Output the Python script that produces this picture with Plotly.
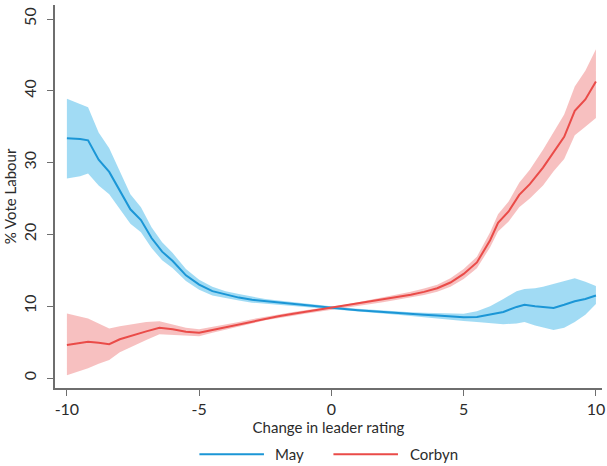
import plotly.graph_objects as go

# Change in leader rating (x) and estimated % vote Labour with 95% bands
may_x = [-10, -9.5, -9.2, -8.8, -8.4, -8.0, -7.6, -7.2, -6.8, -6.4, -6.0, -5.5, -5.0,
         -4.5, -4.0, -3.5, -3.0, -2.5, -2.0, -1.5, -1.0, -0.5, 0, 0.5, 1.0, 1.5, 2.0,
         2.5, 3.0, 3.5, 4.0, 4.5, 5.0, 5.5, 6.0, 6.5, 7.0, 7.3, 7.7, 8.0, 8.4, 8.8,
         9.2, 9.6, 10.0]
may_mean = [33.4, 33.3, 33.1, 30.4, 28.7, 26.0, 23.5, 22.0, 19.5, 17.6, 16.3, 14.3, 13.0,
            12.1, 11.6, 11.2, 10.9, 10.7, 10.5, 10.3, 10.1, 9.9, 9.75, 9.6, 9.45, 9.3, 9.15,
            9.0, 8.9, 8.8, 8.7, 8.55, 8.45, 8.5, 8.8, 9.2, 9.9, 10.2, 10.0, 9.9, 9.75, 10.2,
            10.7, 11.0, 11.5]
may_lo = [27.8, 28.1, 28.5, 26.8, 25.6, 23.5, 21.5, 20.3, 18.1, 16.4, 15.3, 13.5, 12.3,
          11.5, 11.1, 10.8, 10.5, 10.3, 10.2, 10.0, 9.85, 9.7, 9.55, 9.4, 9.25, 9.1, 8.95,
          8.8, 8.65, 8.5, 8.35, 8.15, 7.95, 7.8, 7.7, 7.5, 7.6, 7.8, 7.3, 7.0, 6.7, 7.0,
          7.8, 8.8, 10.3]
may_hi = [38.9, 38.2, 37.7, 34.2, 32.0, 28.8, 25.6, 23.8, 21.0, 18.9, 17.4, 15.2, 13.7,
          12.7, 12.1, 11.7, 11.3, 11.0, 10.8, 10.6, 10.35, 10.1, 9.95, 9.8, 9.65, 9.5, 9.35,
          9.25, 9.15, 9.1, 9.05, 8.95, 8.95, 9.3, 10.0, 11.0, 12.1, 12.4, 12.5, 12.7, 13.1,
          13.6, 13.9, 13.4, 12.8]

corbyn_x = [-10, -9.5, -9.2, -8.8, -8.4, -8.0, -7.5, -7.0, -6.5, -6.0, -5.5, -5.0, -4.5,
            -4.0, -3.5, -3.0, -2.5, -2.0, -1.5, -1.0, -0.5, 0, 0.5, 1.0, 1.5, 2.0, 2.5,
            3.0, 3.5, 4.0, 4.5, 5.0, 5.5, 6.0, 6.3, 6.7, 7.1, 7.5, 8.0, 8.4, 8.8, 9.2,
            9.6, 10.0]
corbyn_mean = [4.6, 4.9, 5.05, 4.9, 4.7, 5.4, 6.0, 6.5, 7.0, 6.8, 6.45, 6.3, 6.7,
               7.1, 7.5, 7.9, 8.3, 8.6, 8.9, 9.2, 9.5, 9.7, 10.0, 10.3, 10.6, 10.9, 11.2,
               11.6, 12.0, 12.5, 13.3, 14.5, 16.1, 19.2, 21.6, 23.2, 25.5, 27.0, 29.3, 31.5,
               33.6, 37.2, 38.8, 41.3]
corbyn_lo = [0.4, 1.0, 1.35, 2.0, 2.5, 3.6, 4.4, 5.3, 6.1, 6.1, 5.9, 5.8, 6.3,
             6.75, 7.2, 7.6, 8.05, 8.35, 8.65, 8.95, 9.3, 9.5, 9.8, 10.05, 10.3, 10.6, 10.85,
             11.2, 11.55, 12.0, 12.7, 13.8, 15.3, 18.2, 20.4, 21.8, 23.8, 25.0, 26.8, 28.8,
             30.5, 33.8, 35.0, 36.2]
corbyn_hi = [9.0, 8.6, 8.3, 7.6, 6.9, 7.2, 7.5, 7.8, 7.9, 7.5, 7.0, 6.8, 7.1,
             7.45, 7.8, 8.2, 8.55, 8.85, 9.15, 9.45, 9.7, 9.9, 10.2, 10.55, 10.9, 11.2, 11.55,
             12.0, 12.45, 13.0, 13.9, 15.2, 16.9, 20.3, 22.8, 24.6, 27.2, 29.0, 31.8, 34.2,
             36.7, 40.6, 42.8, 45.8]

x_ticks = [-10, -5, 0, 5, 10]
x_tick_labels = ["-10", "-5", "0", "5", "10"]
y_ticks = [0, 10, 20, 30, 40, 50]

BLUE = "#1b96d6"
BLUE_BAND = "rgba(110, 200, 238, 0.65)"
RED = "#ea4b48"
RED_BAND = "rgba(240, 140, 140, 0.55)"
FONT = "Lato"
TEXT = "#2b2b2b"
AXIS = "#6e6e6e"

fig = go.Figure()


def add_band(x, lo, hi, color):
    fig.add_trace(go.Scatter(x=x + x[::-1], y=hi + lo[::-1], fill="toself",
                             fillcolor=color, line=dict(width=0), mode="lines",
                             hoverinfo="skip", showlegend=False))


add_band(may_x, may_lo, may_hi, BLUE_BAND)
add_band(corbyn_x, corbyn_lo, corbyn_hi, RED_BAND)
fig.add_trace(go.Scatter(x=may_x, y=may_mean, mode="lines", name="May",
                         line=dict(color=BLUE, width=2), showlegend=False))
fig.add_trace(go.Scatter(x=corbyn_x, y=corbyn_mean, mode="lines", name="Corbyn",
                         line=dict(color=RED, width=2), showlegend=False))

# Legend row under the x-axis title
legend_items = [("May", BLUE, 0.264, 0.382, 0.398),
                ("Corbyn", RED, 0.509, 0.627, 0.645)]
for label, color, x0, x1, xt in legend_items:
    fig.add_shape(type="line", xref="paper", yref="paper", x0=x0, x1=x1,
                  y0=-0.173, y1=-0.173, line=dict(color=color, width=2))
    fig.add_annotation(xref="paper", yref="paper", x=xt, y=-0.173, text=label,
                       showarrow=False, xanchor="left", yanchor="middle",
                       font=dict(family=FONT, size=15, color=TEXT))

fig.update_layout(
    width=607, height=466,
    margin=dict(l=55, r=2, t=5, b=78),
    paper_bgcolor="white", plot_bgcolor="white",
    font=dict(family=FONT, size=15, color=TEXT),
    showlegend=False,
)
fig.update_xaxes(range=[-10.45, 10.23], tickvals=x_ticks, ticktext=x_tick_labels,
                 ticks="outside", ticklen=6, ticklabeloverflow="allow",
                 tickcolor=AXIS, tickwidth=1.3, showline=True, linecolor=AXIS, linewidth=1.6,
                 showgrid=False, zeroline=False,
                 tickfont=dict(family=FONT, size=16, color=TEXT),
                 title=dict(text="Change in leader rating", standoff=2,
                            font=dict(family=FONT, size=15, color=TEXT)))
fig.update_yaxes(range=[-1.39, 51.95], tickvals=y_ticks, ticks="outside", ticklen=6,
                 ticklabelstandoff=5,
                 tickcolor=AXIS, tickwidth=1.3, showline=True, linecolor=AXIS, linewidth=1.6,
                 showgrid=False, zeroline=False, tickangle=-90,
                 tickfont=dict(family=FONT, size=16, color=TEXT),
                 title=dict(text="% Vote Labour", standoff=0,
                            font=dict(family=FONT, size=15, color=TEXT)))

fig.write_html("out.html")
